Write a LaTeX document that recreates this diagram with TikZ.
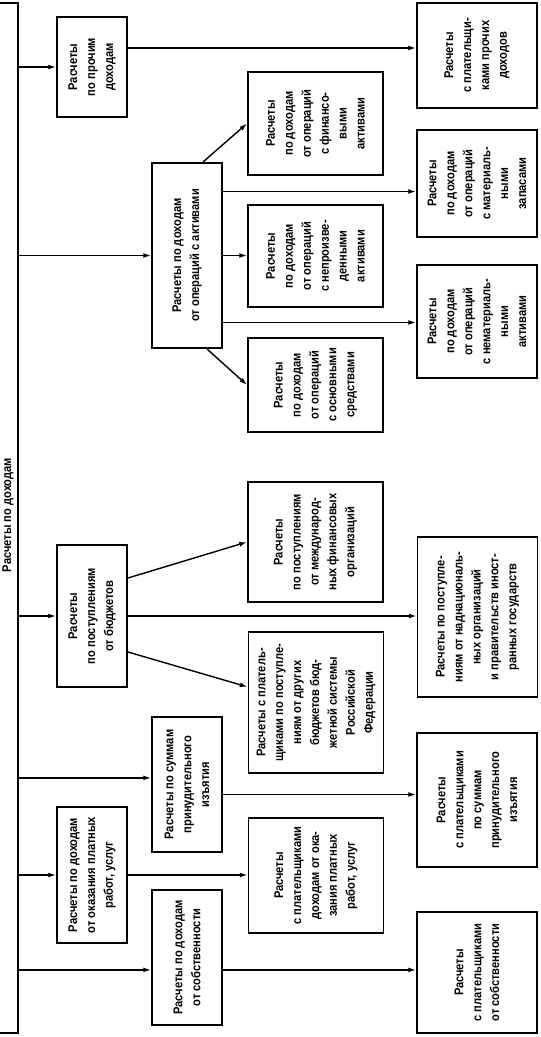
\documentclass[tikz,border=0pt]{standalone}
\usepackage{fontspec}
\setmainfont{Liberation Sans}[FakeStretch=0.88]
\usepackage{tikz}
\usetikzlibrary{arrows.meta,positioning,calc}

\newcommand\boxfont{\fontsize{18}{25.5}\selectfont\bfseries}

\begin{document}
\begin{tikzpicture}[x=0.05cm, y=-0.05cm, >={Latex[length=11pt,width=7pt]}]
    % Styles
    \tikzset{box/.style={rectangle, draw, line width=2.8pt, rotate=90, align=center, inner sep=2pt, font=\boxfont, execute at begin node={\setlength{\baselineskip}{25.5pt}}}}
    \tikzset{lvl/.style={box, minimum height=3.5cm}}
    \tikzset{mid/.style={box, minimum height=6.75cm}}
    \tikzset{outer/.style={box, minimum height=6cm}}
    \tikzset{line/.style={draw, ->, line width=2pt}}

    \useasboundingbox (0,0) rectangle (540,1037);

    % Title and trunk
    \node [rotate=90, font=\boxfont] (title) at (8,515) {Расчеты по доходам};
    \coordinate (top) at (18,3);
    \coordinate (bot) at (18,1033);
    \draw [line width=2.8pt] (0,3) -- (top) -- (bot) -- (0,1033);

    % Nodes: first level
    \node [lvl, minimum width=5cm] (prochie) at (92,67) {Расчеты\\по прочим\\доходам};
    \node [lvl, minimum width=9.25cm] (aktivy) at (187,255.5) {Расчеты по доходам\\от операций с активами};
    \node [lvl, minimum width=7.1cm] (budget) at (92,616) {Расчеты\\по поступлениям\\от бюджетов};
    \node [lvl, minimum width=6.75cm] (izyatie) at (187,784.5) {Расчеты по суммам\\принудительного\\изъятия};
    \node [lvl, minimum width=6.8cm] (platnye) at (92,875) {Расчеты по доходам\\от оказания платных\\работ, услуг};
    \node [lvl, minimum width=6.75cm] (sobstv) at (187,957.5) {Расчеты по доходам\\от собственности};

    % Nodes: middle column
    \node [mid, minimum width=5.15cm] (finans) at (315.5,123.5) {Расчеты\\по доходам\\от операций\\с финансо-\\выми\\активами};
    \node [mid, minimum width=5.1cm] (neproizv) at (315.5,256) {Расчеты\\по доходам\\от операций\\с непроизве-\\денными\\активами};
    \node [mid, minimum width=4.7cm] (osnov) at (315.5,385) {Расчеты\\по доходам\\от операций\\с основными\\средствами};
    \node [mid, minimum width=6cm] (mezhd) at (315.5,542) {Расчеты\\по поступлениям\\от международ-\\ных финансовых\\организаций};
    \node [mid, minimum width=7.05cm] (rf) at (316,702.5) {Расчеты с платель-\\щиками по поступле-\\ниям от других\\бюджетов бюд-\\жетной системы\\Российской\\Федерации};
    \node [mid, minimum width=5.75cm] (platn2) at (316,875.5) {Расчеты\\с плательщиками\\доходам от ока-\\зания платных\\работ, услуг};

    % Nodes: outer column
    \node [outer, minimum width=5.25cm] (platProch) at (477,55.5) {Расчеты\\с плательщи-\\ками прочих\\доходов};
    \node [outer, minimum width=5.35cm] (mater) at (477,183.5) {Расчеты\\по доходам\\от операций\\с материаль-\\ными\\запасами};
    \node [outer, minimum width=5.65cm] (nemater) at (477,321.5) {Расчеты\\по доходам\\от операций\\с нематериаль-\\ными\\активами};
    \node [outer, minimum width=8cm] (nadnac) at (477.5,617) {Расчеты по поступле-\\ниям от наднациональ-\\ных организаций\\и правительств иност-\\ранных государств};
    \node [outer, minimum width=6.7cm] (platIzyat) at (477,800) {Расчеты\\с плательщиками\\по суммам\\принудительного\\изъятия};
    \node [outer, minimum width=6.05cm] (platSobst) at (477,972.5) {Расчеты\\с плательщиками\\от собственности};

    % Connector levels
    \coordinate (izIn) at ([yshift=0.33cm]izyatie.north);
    \coordinate (sobIn) at ([yshift=-0.62cm]sobstv.north);
    \coordinate (prochOut) at ([yshift=0.95cm]prochie.south);
    \coordinate (aktUp) at ([yshift=3.2cm]aktivy.south);
    \coordinate (aktDown) at ([yshift=-3.35cm]aktivy.south);
    \coordinate (izOut) at ([yshift=-0.5cm]izyatie.south);
    \coordinate (sobOut) at ([yshift=-0.62cm]sobstv.south);

    % Paths from trunk
    \path [line] (prochie.north -| top) -- (prochie.north);
    \path [line] (aktivy.north -| top) -- (aktivy.north);
    \path [line] (budget.north -| top) -- (budget.north);
    \path [line] (izIn -| top) -- (izIn);
    \path [line] (platnye.north -| top) -- (platnye.north);
    \path [line] (sobIn -| top) -- (sobIn);

    % Diagonal paths
    \path [line] ([xshift=0.8cm]aktivy.east) -- (finans.north);
    \path [line] ([xshift=1cm]aktivy.west) -- (osnov.north);
    \path [line] ([yshift=1.9cm]budget.south) -- (mezhd.north);
    \path [line] ([yshift=-1.8cm]budget.south) -- ([yshift=0.78cm]rf.north);

    % Straight paths
    \path [line] (prochOut) -- (prochOut -| platProch.north);
    \path [line] (aktivy.south) -- (aktivy.south -| neproizv.north);
    \path [line] (aktUp) -- (aktUp -| mater.north);
    \path [line] (aktDown) -- (aktDown -| nemater.north);
    \path [line] (budget.south) -- (budget.south -| nadnac.north);
    \path [line] (izOut) -- (izOut -| platIzyat.north);
    \path [line] (platnye.south) -- (platnye.south -| platn2.north);
    \path [line] (sobOut) -- (sobOut -| platSobst.north);
\end{tikzpicture}
\end{document}
